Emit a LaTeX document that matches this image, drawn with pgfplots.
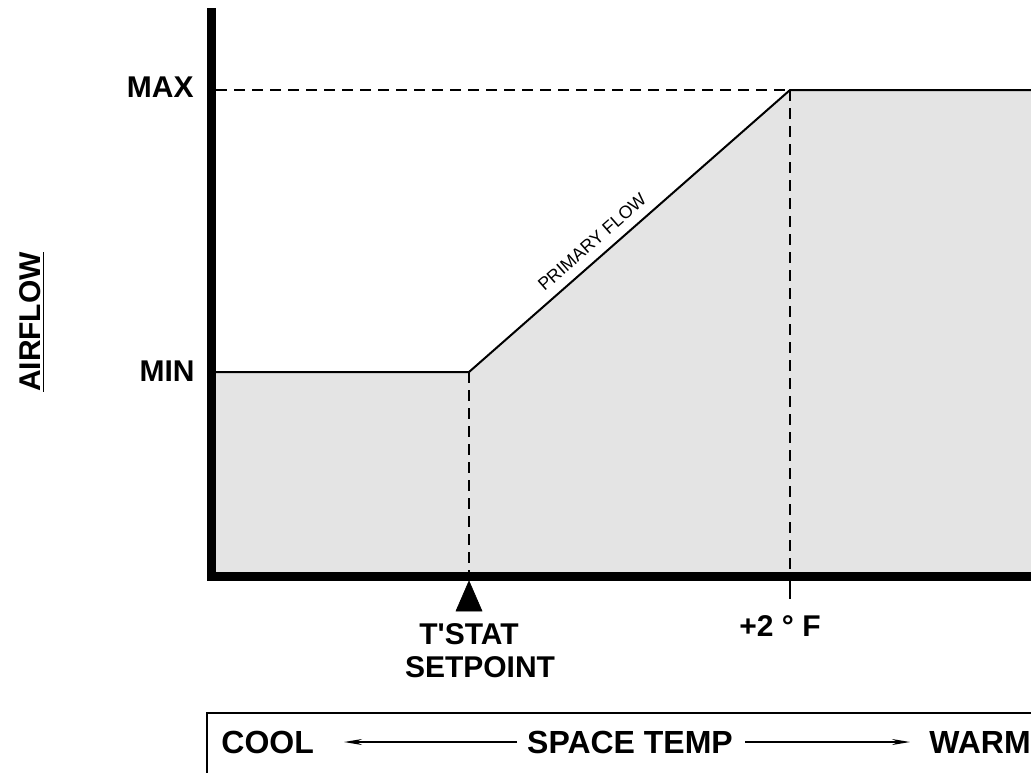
\documentclass[border=0pt]{standalone}
\usepackage{pgfplots}
\pgfplotsset{compat=1.18}
\usepackage{fontspec}
\setmainfont{Liberation Sans}
\newfontfamily\plainfont{Liberation Sans}[Ligatures=NoCommon]
\usetikzlibrary{arrows.meta}
\definecolor{fillgray}{HTML}{E4E4E4}
\begin{document}
\begin{tikzpicture}
\useasboundingbox (0,0) rectangle (515.5pt,386pt);
\clip (0,0) rectangle (515.5pt,386pt);
\begin{axis}[
  x=0.5pt, y=0.5pt, y dir=reverse,
  xmin=0, xmax=1031, ymin=0, ymax=772,
  hide axis, clip=false,
  at={(0,0)}, anchor=south west,
]
% filled region under the primary flow curve
\addplot[fill=fillgray, draw=none] coordinates {
  (216,572) (216,372) (469,372) (790,90) (1031,90) (1031,572)} -- cycle;
% primary flow line
\addplot[black, line width=1pt, line join=round] coordinates {
  (216,372) (469,372) (790,90) (1031,90)};
% dashed guides
\addplot[black, line width=1pt, dash pattern=on 5.5pt off 3.5pt] coordinates {(216,90) (790,90)};
\addplot[black, line width=1pt, dash pattern=on 5.5pt off 3.5pt] coordinates {(790,90) (790,572)};
\addplot[black, line width=1pt, dash pattern=on 5.5pt off 3.5pt] coordinates {(469,372) (469,572)};
% tick below axis at +2F
\addplot[black, line width=1pt] coordinates {(790,578) (790,599)};
% axes
\addplot[black, line width=4.5pt, line join=miter] coordinates {
  (211.5,8) (211.5,576.5) (1031,576.5)};
% setpoint triangle
\addplot[fill=black, draw=black, line width=0.3pt] coordinates {
  (456,611) (469,581) (482,611)} -- cycle;
% labels
\node[anchor=east, inner sep=0pt, font=\fontsize{15}{18}\selectfont\bfseries] at (axis cs:194,87) {MAX};
\node[anchor=east, inner sep=0pt, font=\fontsize{15}{18}\selectfont\bfseries] at (axis cs:195,371) {MIN};
\node[inner sep=0pt, font=\plainfont\fontsize{15}{18}\selectfont\bfseries] at (axis cs:469,634) {T'STAT};
\node[inner sep=0pt, font=\fontsize{15}{18}\selectfont\bfseries] at (axis cs:480,667) {SETPOINT};
\node[inner sep=0pt, font=\fontsize{15}{18}\selectfont\bfseries] at (axis cs:780,626) {+2 ° F};
\node[inner sep=0pt, rotate=90, font=\fontsize{15}{18}\selectfont\bfseries] at (axis cs:32,322) {\underline{AIRFLOW}};
\node[inner sep=0pt, rotate=41.3, font=\fontsize{8.9}{10}\selectfont] at (axis cs:592,242) {PRIMARY FLOW};
% bottom box
\draw[black, line width=0.8pt] (axis cs:1045,713) -- (axis cs:207,713) -- (axis cs:207,790);
\node[anchor=west, inner sep=0pt, font=\fontsize{16}{19}\selectfont\bfseries] at (axis cs:221,742) {COOL};
\node[inner sep=0pt, font=\fontsize{16}{19}\selectfont\bfseries] at (axis cs:630,742) {SPACE TEMP};
\node[anchor=west, inner sep=0pt, font=\fontsize{16}{19}\selectfont\bfseries] at (axis cs:929,742) {WARM};
\draw[black, line width=0.75pt, -{Stealth[length=9pt, width=3pt]}] (axis cs:517,742) -- (axis cs:344,742);
\draw[black, line width=0.75pt, -{Stealth[length=9pt, width=3pt]}] (axis cs:745,742) -- (axis cs:910,742);
\end{axis}
\end{tikzpicture}
\end{document}
